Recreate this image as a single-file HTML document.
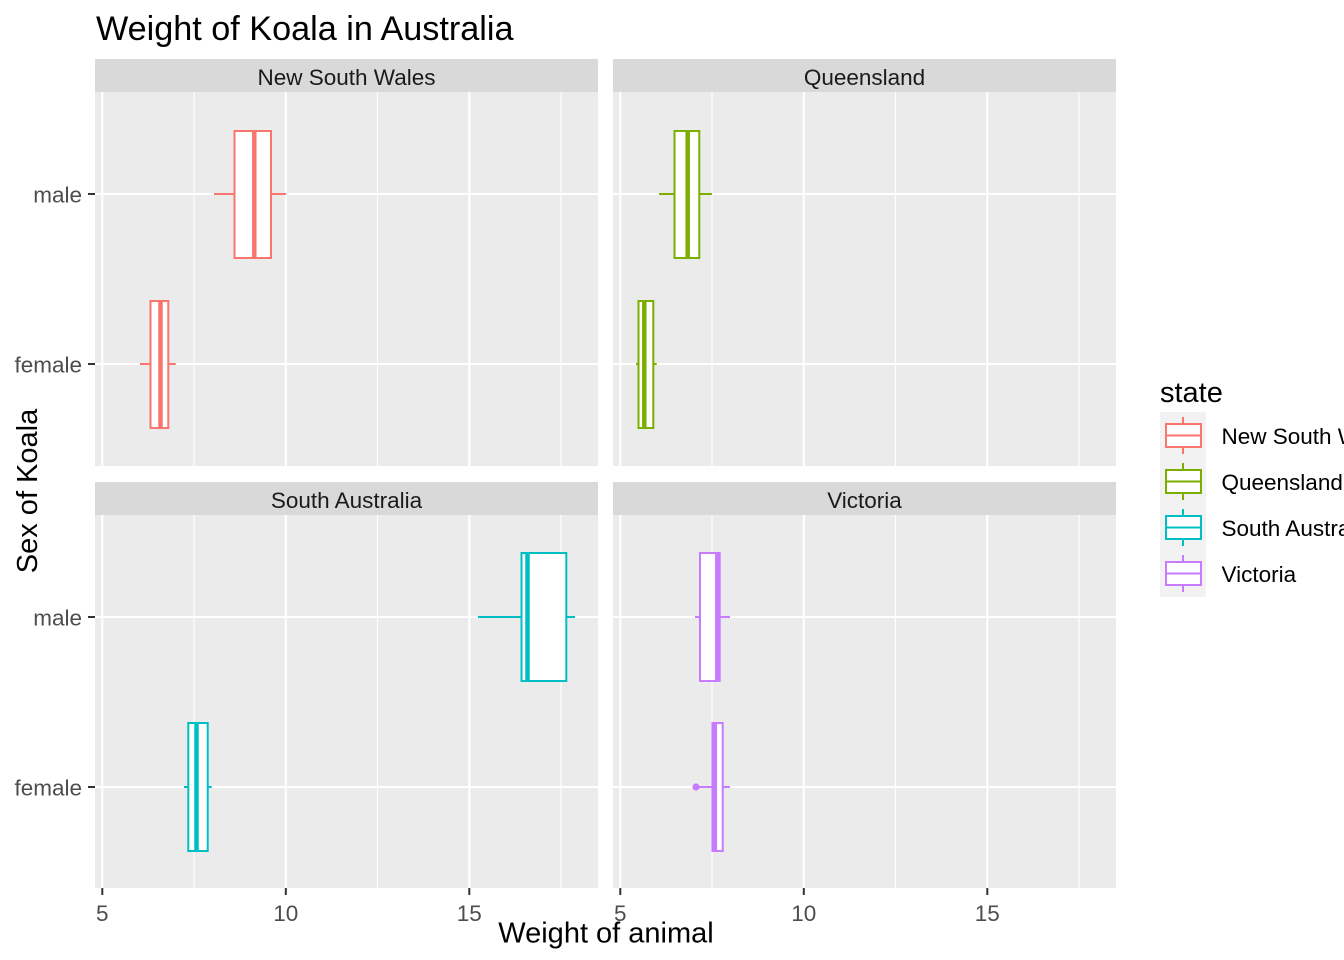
<!DOCTYPE html>
<html><head><meta charset="utf-8"><style>
html,body{margin:0;padding:0;background:#fff;}
svg{display:block;font-family:"Liberation Sans",Arial,sans-serif;}
</style></head><body>
<svg width="1344" height="960" viewBox="0 0 1344 960" xmlns="http://www.w3.org/2000/svg">
<rect width="1344" height="960" fill="#fff"/>
<text x="96" y="40" font-size="34.2" fill="#000">Weight of Koala in Australia</text>

<!-- strips -->
<rect x="95" y="59" width="503" height="33" fill="#D9D9D9"/>
<rect x="613" y="59" width="503" height="33" fill="#D9D9D9"/>
<rect x="95" y="482" width="503" height="33" fill="#D9D9D9"/>
<rect x="613" y="482" width="503" height="33" fill="#D9D9D9"/>
<g font-size="22.5" fill="#1A1A1A" text-anchor="middle">
<text x="346.5" y="85">New South Wales</text>
<text x="864.5" y="85">Queensland</text>
<text x="346.5" y="508">South Australia</text>
<text x="864.5" y="508">Victoria</text>
</g>

<!-- panels -->
<rect x="95" y="92" width="503" height="374" fill="#EBEBEB"/>
<rect x="613" y="92" width="503" height="374" fill="#EBEBEB"/>
<rect x="95" y="515" width="503" height="373" fill="#EBEBEB"/>
<rect x="613" y="515" width="503" height="373" fill="#EBEBEB"/>

<!-- grid lines -->
<g stroke="#fff" stroke-width="1.1">
<line x1="194" y1="92" x2="194" y2="466"/><line x1="377.5" y1="92" x2="377.5" y2="466"/><line x1="561" y1="92" x2="561" y2="466"/>
<line x1="712" y1="92" x2="712" y2="466"/><line x1="895.5" y1="92" x2="895.5" y2="466"/><line x1="1079" y1="92" x2="1079" y2="466"/>
<line x1="194" y1="515" x2="194" y2="888"/><line x1="377.5" y1="515" x2="377.5" y2="888"/><line x1="561" y1="515" x2="561" y2="888"/>
<line x1="712" y1="515" x2="712" y2="888"/><line x1="895.5" y1="515" x2="895.5" y2="888"/><line x1="1079" y1="515" x2="1079" y2="888"/>
</g>
<g stroke="#fff" stroke-width="2.1">
<line x1="102.3" y1="92" x2="102.3" y2="466"/><line x1="285.8" y1="92" x2="285.8" y2="466"/><line x1="469.3" y1="92" x2="469.3" y2="466"/>
<line x1="620.3" y1="92" x2="620.3" y2="466"/><line x1="803.8" y1="92" x2="803.8" y2="466"/><line x1="987.3" y1="92" x2="987.3" y2="466"/>
<line x1="102.3" y1="515" x2="102.3" y2="888"/><line x1="285.8" y1="515" x2="285.8" y2="888"/><line x1="469.3" y1="515" x2="469.3" y2="888"/>
<line x1="620.3" y1="515" x2="620.3" y2="888"/><line x1="803.8" y1="515" x2="803.8" y2="888"/><line x1="987.3" y1="515" x2="987.3" y2="888"/>
<line x1="95" y1="194" x2="598" y2="194"/><line x1="95" y1="364" x2="598" y2="364"/>
<line x1="613" y1="194" x2="1116" y2="194"/><line x1="613" y1="364" x2="1116" y2="364"/>
<line x1="95" y1="617" x2="598" y2="617"/><line x1="95" y1="787" x2="598" y2="787"/>
<line x1="613" y1="617" x2="1116" y2="617"/><line x1="613" y1="787" x2="1116" y2="787"/>
</g>

<!-- boxes -->
<g fill="#fff" stroke-width="2">
<g stroke="#F8766D">
<line x1="214" y1="194" x2="234.5" y2="194"/><line x1="271" y1="194" x2="286" y2="194"/>
<rect x="234.5" y="131" width="36.5" height="127"/>
<line x1="254.3" y1="131" x2="254.3" y2="258" stroke-width="4.5"/>
<line x1="140" y1="364" x2="150.5" y2="364"/><line x1="168.3" y1="364" x2="175.7" y2="364"/>
<rect x="150.5" y="301" width="17.8" height="127"/>
<line x1="160.5" y1="301" x2="160.5" y2="428" stroke-width="4.5"/>
</g>
<g stroke="#7CAE00">
<line x1="659" y1="194" x2="674.5" y2="194"/><line x1="699.3" y1="194" x2="712" y2="194"/>
<rect x="674.5" y="131" width="24.8" height="127"/>
<line x1="687.7" y1="131" x2="687.7" y2="258" stroke-width="4.5"/>
<line x1="636" y1="364" x2="638.5" y2="364"/><line x1="653.3" y1="364" x2="656.7" y2="364"/>
<rect x="638.5" y="301" width="14.8" height="127"/>
<line x1="644.3" y1="301" x2="644.3" y2="428" stroke-width="4.5"/>
</g>
<g stroke="#00BFC4">
<line x1="478" y1="617" x2="521.5" y2="617"/><line x1="566.3" y1="617" x2="575" y2="617"/>
<rect x="521.5" y="553" width="44.8" height="128"/>
<line x1="527.5" y1="553" x2="527.5" y2="681" stroke-width="4.5"/>
<line x1="184" y1="787" x2="188.3" y2="787"/><line x1="207.7" y1="787" x2="211.7" y2="787"/>
<rect x="188.3" y="723" width="19.4" height="128"/>
<line x1="196.5" y1="723" x2="196.5" y2="851" stroke-width="4.5"/>
</g>
<g stroke="#C77CFF">
<line x1="695" y1="617" x2="700" y2="617"/><line x1="719.7" y1="617" x2="730" y2="617"/>
<rect x="700" y="553" width="19.7" height="128"/>
<line x1="717.3" y1="553" x2="717.3" y2="681" stroke-width="4.5"/>
<line x1="698" y1="787" x2="712.5" y2="787"/><line x1="722.7" y1="787" x2="730" y2="787"/>
<rect x="712.5" y="723" width="10.2" height="128"/>
<line x1="714.8" y1="723" x2="714.8" y2="851" stroke-width="4.5"/>
<circle cx="696" cy="787" r="3.6" fill="#C77CFF" stroke="none"/>
</g>
</g>

<!-- axis ticks -->
<g stroke="#333" stroke-width="2">
<line x1="88" y1="194" x2="95" y2="194"/><line x1="88" y1="364" x2="95" y2="364"/>
<line x1="88" y1="617" x2="95" y2="617"/><line x1="88" y1="787" x2="95" y2="787"/>
<line x1="102.3" y1="888" x2="102.3" y2="895"/><line x1="285.8" y1="888" x2="285.8" y2="895"/><line x1="469.3" y1="888" x2="469.3" y2="895"/>
<line x1="620.3" y1="888" x2="620.3" y2="895"/><line x1="803.8" y1="888" x2="803.8" y2="895"/><line x1="987.3" y1="888" x2="987.3" y2="895"/>
</g>
<g font-size="22.5" fill="#4D4D4D">
<g text-anchor="end">
<text x="82" y="202.5">male</text><text x="82" y="372.5">female</text>
<text x="82" y="625.5">male</text><text x="82" y="795.5">female</text>
</g>
<g text-anchor="middle">
<text x="102.3" y="921">5</text><text x="285.8" y="921">10</text><text x="469.3" y="921">15</text>
<text x="620.3" y="921">5</text><text x="803.8" y="921">10</text><text x="987.3" y="921">15</text>
</g>
</g>

<!-- axis titles -->
<text x="606" y="942.5" font-size="29" text-anchor="middle" fill="#000">Weight of animal</text>
<text transform="translate(37,491) rotate(-90)" font-size="29" text-anchor="middle" fill="#000">Sex of Koala</text>

<!-- legend -->
<text x="1160" y="402" font-size="29" fill="#000">state</text>
<rect x="1160" y="412" width="46" height="185" fill="#F2F2F2"/>
<g fill="#fff" stroke-width="2">
<g stroke="#F8766D"><line x1="1183" y1="417" x2="1183" y2="454"/><rect x="1166" y="424" width="35" height="23"/><line x1="1166" y1="435.5" x2="1201" y2="435.5"/></g>
<g stroke="#7CAE00"><line x1="1183" y1="463" x2="1183" y2="500"/><rect x="1166" y="470" width="35" height="23"/><line x1="1166" y1="481.5" x2="1201" y2="481.5"/></g>
<g stroke="#00BFC4"><line x1="1183" y1="509" x2="1183" y2="546"/><rect x="1166" y="516" width="35" height="23"/><line x1="1166" y1="527.5" x2="1201" y2="527.5"/></g>
<g stroke="#C77CFF"><line x1="1183" y1="555" x2="1183" y2="592"/><rect x="1166" y="562" width="35" height="23"/><line x1="1166" y1="573.5" x2="1201" y2="573.5"/></g>
</g>
<g font-size="22.5" fill="#000">
<text x="1221.5" y="444">New South Wales</text>
<text x="1221.5" y="490">Queensland</text>
<text x="1221.5" y="536">South Australia</text>
<text x="1221.5" y="582">Victoria</text>
</g>
</svg>
</body></html>
